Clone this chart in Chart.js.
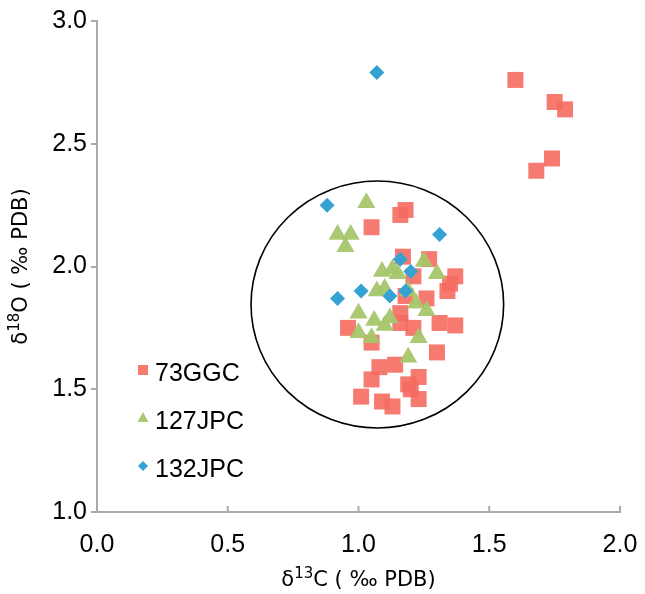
<!DOCTYPE html>
<html>
<head>
<meta charset="utf-8">
<script src="https://cdn.jsdelivr.net/npm/chart.js@4.4.1/dist/chart.umd.min.js"></script>
<style>
  body { margin: 0; background: #fff; }
  #wrap { width: 645px; height: 594px; }
</style>
</head>
<body>
<div id="wrap"><canvas id="isoChart" width="645" height="594"></canvas></div>
<script>
// Tick labels
const xTicks = [0, 0.5, 1.0, 1.5, 2.0];
const yTicks = [1.0, 1.5, 2.0, 2.5, 3.0];

// Series names
const seriesNames = ["73GGC", "127JPC", "132JPC"];

// 73GGC  (d13C, d18O)
const ggc73X = [1.18, 1.16, 1.05, 1.17, 1.27, 1.37, 1.35, 1.34, 1.21, 1.18, 1.26, 1.16,
  0.96, 1.16, 1.21, 1.31, 1.37, 1.05, 1.30, 1.08, 1.14, 1.23, 1.05, 1.19, 1.20, 1.23,
  1.01, 1.09, 1.13, 1.60, 1.75, 1.79, 1.74, 1.68];
const ggc73Y = [2.23, 2.21, 2.16, 2.04, 2.03, 1.96, 1.93, 1.90, 1.96, 1.88, 1.87, 1.81,
  1.75, 1.77, 1.75, 1.77, 1.76, 1.69, 1.65, 1.59, 1.60, 1.55, 1.54, 1.52, 1.50, 1.46,
  1.47, 1.45, 1.43, 2.76, 2.67, 2.64, 2.44, 2.39];

// 127JPC
const jpc127X = [1.03, 0.92, 0.97, 0.95, 1.25, 1.30, 1.09, 1.13, 1.15, 1.07, 1.10, 1.19,
  1.22, 1.26, 1.00, 1.06, 1.12, 1.10, 1.00, 1.05, 1.23, 1.19];
const jpc127Y = [2.26, 2.13, 2.13, 2.08, 2.02, 1.97, 1.98, 1.99, 1.97, 1.90, 1.91, 1.90,
  1.85, 1.82, 1.81, 1.78, 1.79, 1.76, 1.73, 1.71, 1.71, 1.63];

// 132JPC
const jpc132X = [0.88, 1.31, 1.16, 1.20, 1.01, 0.92, 1.12, 1.18, 1.07];
const jpc132Y = [2.25, 2.13, 2.03, 1.98, 1.90, 1.87, 1.88, 1.90, 2.79];

// Circled group (centre and radii in data units)
const ringCenter = [1.072, 1.845];
const ringRadius = [0.483, 0.503];

const colors = ["rgba(246,108,98,0.9)", "rgba(166,198,108,0.95)", "rgba(52,163,212,1)"];
const shapes = ["rect", "triangle", "rectRot"];

function toPoints(xs, ys) {
  return xs.map(function (x, i) { return { x: x, y: ys[i] }; });
}

// circle + inward x ticks + legend + axis titles
const decorPlugin = {
  id: "decor",
  beforeDatasetsDraw: function (chart) {
    const ctx = chart.ctx;
    const xs = chart.scales.x, ys = chart.scales.y;
    const cx = xs.getPixelForValue(ringCenter[0]);
    const cy = ys.getPixelForValue(ringCenter[1]);
    const rx = xs.getPixelForValue(ringCenter[0] + ringRadius[0]) - cx;
    const ry = cy - ys.getPixelForValue(ringCenter[1] + ringRadius[1]);
    ctx.save();
    ctx.beginPath();
    ctx.ellipse(cx, cy, rx, ry, 0, 0, Math.PI * 2);
    ctx.strokeStyle = "#000";
    ctx.lineWidth = 1.6;
    ctx.stroke();
    ctx.restore();
  },
  afterDraw: function (chart) {
    const ctx = chart.ctx;
    const area = chart.chartArea;
    const xs = chart.scales.x;
    ctx.save();

    // inward ticks on x axis
    ctx.strokeStyle = "#aaa";
    ctx.lineWidth = 2;
    xTicks.slice(1).forEach(function (v) {
      const px = xs.getPixelForValue(v);
      ctx.beginPath();
      ctx.moveTo(px, area.bottom);
      ctx.lineTo(px, area.bottom - 6);
      ctx.stroke();
    });

    // legend
    ctx.font = "25px 'Liberation Sans', Arial, sans-serif";
    ctx.textBaseline = "middle";
    ctx.textAlign = "left";
    const lx = area.left + 46;
    const lyStart = area.top + 349;
    seriesNames.forEach(function (name, i) {
      const ly = lyStart + i * 48;
      ctx.fillStyle = colors[i];
      ctx.beginPath();
      if (shapes[i] === "rect") {
        ctx.rect(lx - 5, ly - 5, 10, 10);
      } else if (shapes[i] === "triangle") {
        ctx.moveTo(lx, ly - 6);
        ctx.lineTo(lx + 5.5, ly + 4);
        ctx.lineTo(lx - 5.5, ly + 4);
        ctx.closePath();
      } else {
        ctx.moveTo(lx, ly - 5);
        ctx.lineTo(lx + 5, ly);
        ctx.lineTo(lx, ly + 5);
        ctx.lineTo(lx - 5, ly);
        ctx.closePath();
      }
      ctx.fill();
      ctx.fillStyle = "#000";
      ctx.fillText(name, lx + 12, ly + 4);
    });

    // axis titles with superscripts
    function titleParts(main, sup, rest) {
      return [
        { t: main, f: "21px 'DejaVu Sans', sans-serif", dy: 0 },
        { t: sup, f: "15px 'DejaVu Sans', sans-serif", dy: -8 },
        { t: rest, f: "21px 'DejaVu Sans', sans-serif", dy: 0 }
      ];
    }
    function drawTitle(parts, x, y) {
      let total = 0;
      parts.forEach(function (p) { ctx.font = p.f; total += ctx.measureText(p.t).width; });
      let cur = x - total / 2;
      ctx.textAlign = "left";
      ctx.textBaseline = "alphabetic";
      ctx.fillStyle = "#000";
      parts.forEach(function (p) {
        ctx.font = p.f;
        ctx.fillText(p.t, cur, y + p.dy);
        cur += ctx.measureText(p.t).width;
      });
    }
    drawTitle(titleParts("δ", "13", "C ( ‰ PDB)"), (area.left + area.right) / 2, 586);

    ctx.translate(27, (area.top + area.bottom) / 2);
    ctx.rotate(-Math.PI / 2);
    drawTitle(titleParts("δ", "18", "O ( ‰ PDB)"), 0, 0);
    ctx.restore();
  }
};

document.addEventListener("DOMContentLoaded", function () {
  const ctx = document.getElementById("isoChart").getContext("2d");

  const datasets = [
    { label: seriesNames[0], data: toPoints(ggc73X, ggc73Y), pointStyle: "rect", pointRadius: 11.3, order: 3 },
    { label: seriesNames[1], data: toPoints(jpc127X, jpc127Y), pointStyle: "triangle", pointRadius: 10.5, order: 2 },
    { label: seriesNames[2], data: toPoints(jpc132X, jpc132Y), pointStyle: "rectRot", pointRadius: 7.5, order: 1 }
  ].map(function (ds, i) {
    ds.backgroundColor = colors[i];
    ds.borderWidth = 0;
    ds.borderColor = colors[i];
    ds.pointHoverRadius = ds.pointRadius;
    return ds;
  });

  const chart = new Chart(ctx, {
    type: "scatter",
    data: { datasets: datasets },
    plugins: [decorPlugin],
    options: {
      responsive: false,
      animation: false,
      layout: { padding: { left: 0, right: 25, top: 21, bottom: 0 } },
      plugins: {
        legend: { display: false },
        tooltip: { enabled: false }
      },
      scales: {
        x: {
          type: "linear",
          min: 0,
          max: 2,
          afterBuildTicks: function (scale) {
            scale.ticks = xTicks.map(function (v) { return { value: v }; });
          },
          afterFit: function (scale) {
            scale.height = 82;
            scale.paddingLeft = 0;
            scale.paddingRight = 0;
          },
          grid: { display: true, drawOnChartArea: false, drawTicks: false },
          border: { color: "#aaa", width: 2 },
          ticks: {
            padding: 18,
            color: "#000",
            font: { family: "'Liberation Sans', Arial, sans-serif", size: 25 },
            maxRotation: 0,
            callback: function (v) { return Number(v).toFixed(1); }
          }
        },
        y: {
          type: "linear",
          min: 1,
          max: 3,
          afterBuildTicks: function (scale) {
            scale.ticks = yTicks.map(function (v) { return { value: v }; });
          },
          afterFit: function (scale) {
            scale.width = 97;
            scale.paddingTop = 0;
            scale.paddingBottom = 0;
          },
          grid: { display: true, drawOnChartArea: false, drawTicks: true, tickLength: 6, color: "#aaa", lineWidth: 2 },
          border: { color: "#aaa", width: 2 },
          ticks: {
            padding: 4,
            color: "#000",
            font: { family: "'Liberation Sans', Arial, sans-serif", size: 25 },
            callback: function (v) { return Number(v).toFixed(1); }
          }
        }
      }
    }
  });
});
</script>
</body>
</html>
